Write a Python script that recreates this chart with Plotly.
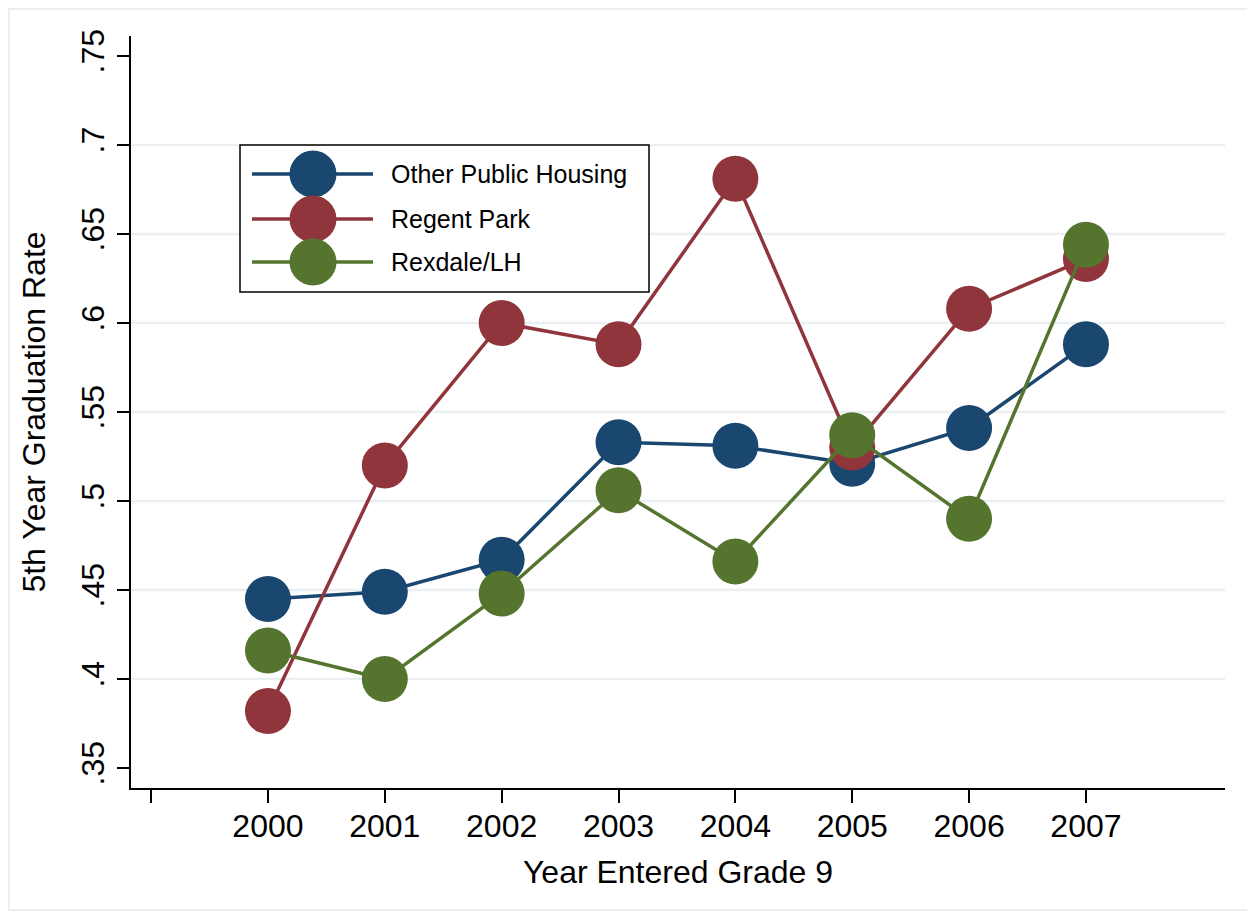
import plotly.graph_objects as go

years = [2000, 2001, 2002, 2003, 2004, 2005, 2006, 2007]
other_public = [0.445, 0.449, 0.467, 0.533, 0.531, 0.521, 0.541, 0.588]
regent_park = [0.382, 0.520, 0.600, 0.588, 0.681, 0.530, 0.608, 0.636]
rexdale = [0.416, 0.400, 0.448, 0.506, 0.466, 0.537, 0.490, 0.644]

series_names = ["Other Public Housing", "Regent Park", "Rexdale/LH"]
series_colors = ["#1a476f", "#90353b", "#55752f"]
series_values = [other_public, regent_park, rexdale]

x_tickvals = [1999, 2000, 2001, 2002, 2003, 2004, 2005, 2006, 2007]
x_ticktext = ["", "2000", "2001", "2002", "2003", "2004", "2005", "2006", "2007"]
y_tickvals = [0.35, 0.4, 0.45, 0.5, 0.55, 0.6, 0.65, 0.7, 0.75]
y_ticktext = [".35", ".4", ".45", ".5", ".55", ".6", ".65", ".7", ".75"]
grid_vals = [0.4, 0.45, 0.5, 0.55, 0.6, 0.65, 0.7]

# page has an 8px body margin; work in page pixels and convert
OFF = 8
W, H = 1255 - OFF, 911 - OFF
PL, PR, PT, PB = 131, 1225, 36, 788  # plot area in page pixels
ML = PL - OFF
MT = PT - OFF
MR = W - (PR - OFF)
MB = H - (PB - OFF)
PW = PR - PL
PH = PB - PT


def xp(px):
    return (px - PL) / PW


def yp(py):
    return (PB - py) / PH


FONT = "Liberation Sans, Arial, sans-serif"

fig = go.Figure()
for name, color, vals in zip(series_names, series_colors, series_values):
    fig.add_trace(go.Scatter(
        x=years, y=vals, name=name, mode="lines+markers",
        line=dict(color=color, width=3.5),
        marker=dict(color=color, size=46, line=dict(width=0)),
        showlegend=False, cliponaxis=False,
    ))

shapes = []
for g in grid_vals:
    shapes.append(dict(type="line", xref="paper", yref="y", x0=0, x1=1, y0=g, y1=g,
                       line=dict(color="#eaf0f2", width=2.5), layer="below"))

# outer frame
shapes.append(dict(type="rect", xref="paper", yref="paper",
                   x0=xp(OFF + 1), x1=xp(1254), y0=yp(910), y1=yp(OFF + 1),
                   line=dict(color="#e3eaed", width=1.5), layer="below"))

# manual legend
shapes.append(dict(type="rect", xref="paper", yref="paper",
                   x0=xp(240), x1=xp(649), y0=yp(292), y1=yp(145),
                   line=dict(color="#000000", width=1.5), fillcolor="white"))
row_centers = [174, 219, 262]
annotations = []
r = 23.5
for name, color, cy in zip(series_names, series_colors, row_centers):
    shapes.append(dict(type="line", xref="paper", yref="paper",
                       x0=xp(252), x1=xp(373), y0=yp(cy), y1=yp(cy),
                       line=dict(color=color, width=3.5)))
    shapes.append(dict(type="circle", xref="paper", yref="paper",
                       x0=xp(313 - r), x1=xp(313 + r), y0=yp(cy + r), y1=yp(cy - r),
                       line=dict(width=0), fillcolor=color))
    annotations.append(dict(xref="paper", yref="paper", x=xp(389), y=yp(cy),
                            xanchor="left", yanchor="middle", text=name,
                            showarrow=False, font=dict(family=FONT, size=25, color="black")))

fig.update_layout(
    width=W, height=H,
    margin=dict(l=ML, r=MR, t=MT, b=MB, pad=0),
    paper_bgcolor="white", plot_bgcolor="white",
    font=dict(family=FONT, color="black"),
    shapes=shapes, annotations=annotations,
    xaxis=dict(
        range=[1998.828, 2008.19], tickvals=x_tickvals, ticktext=x_ticktext,
        showgrid=False, zeroline=False, showline=True, linecolor="black", linewidth=1.5,
        ticks="outside", ticklen=13, tickwidth=1.5, tickcolor="black",
        tickfont=dict(size=32, family=FONT), automargin=False, ticklabelstandoff=-4,
        title=dict(text="Year Entered Grade 9", font=dict(size=32, family=FONT), standoff=17),
    ),
    yaxis=dict(
        range=[0.3388, 0.7612], tickvals=y_tickvals, ticktext=y_ticktext,
        showgrid=False, zeroline=False, showline=True, linecolor="black", linewidth=1.5,
        ticks="outside", ticklen=12, tickwidth=1.5, tickcolor="black",
        tickangle=-90, tickfont=dict(size=32, family=FONT), automargin=False,
        title=dict(text="5th Year Graduation Rate", font=dict(size=32, family=FONT), standoff=20),
    ),
)

fig.write_html("out.html")
